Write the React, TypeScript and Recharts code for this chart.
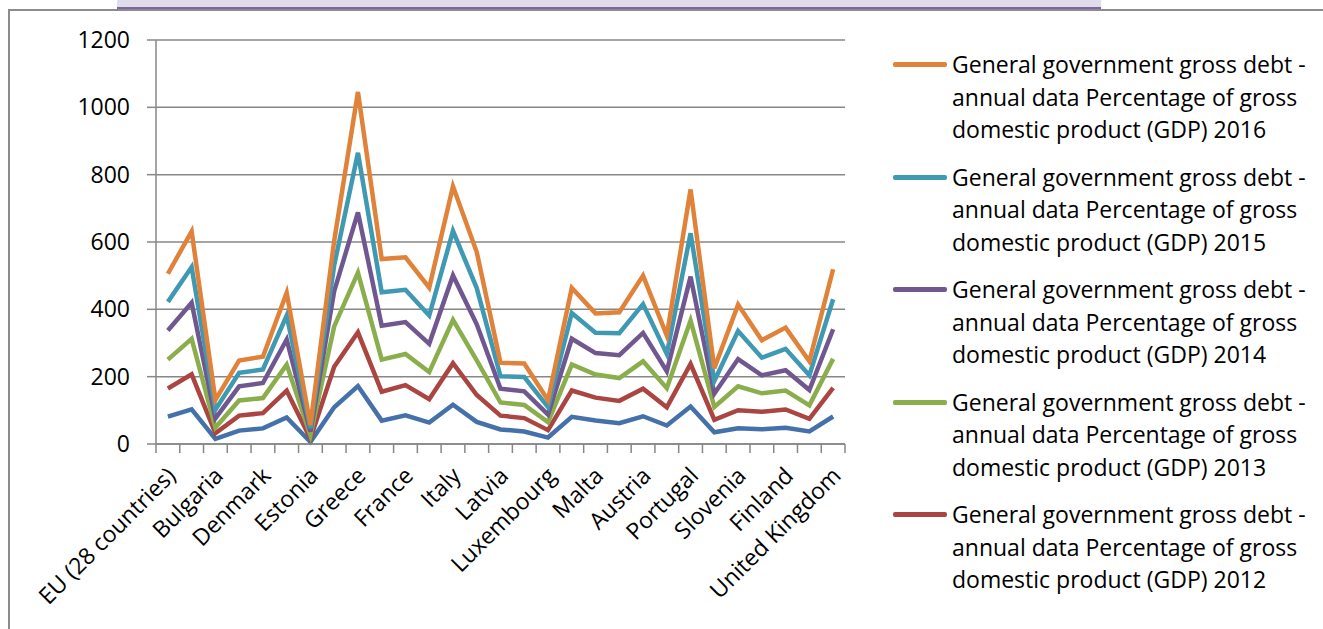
import React from "react";
import { ComposedChart, Area, XAxis, YAxis, CartesianGrid, Legend } from "recharts";

const countries = [
  "EU (28 countries)", "Belgium", "Bulgaria", "Czech Republic", "Denmark", "Germany",
  "Estonia", "Ireland", "Greece", "Spain", "France", "Croatia", "Italy", "Cyprus",
  "Latvia", "Lithuania", "Luxembourg", "Hungary", "Malta", "Netherlands", "Austria",
  "Poland", "Portugal", "Romania", "Slovenia", "Slovakia", "Finland", "Sweden", "United Kingdom",
];

// General government gross debt, % of GDP, one array per year (stacked in the chart)
const debt2011 = [81.1, 102.6, 15.2, 39.8, 46.4, 78.6, 6.1, 109.3, 172.1, 69.5, 85.2, 63.7, 116.5, 65.8, 43.1, 37.2, 19.1, 80.5, 70.1, 61.7, 82.4, 54.8, 111.4, 34.7, 46.6, 43.7, 48.5, 37.2, 81.6];
const debt2012 = [83.8, 104.3, 16.7, 44.5, 45.2, 79.8, 9.7, 120.0, 159.6, 85.7, 89.6, 69.4, 123.4, 79.7, 41.2, 39.8, 22.0, 78.4, 67.7, 66.4, 81.9, 54.4, 126.2, 37.4, 53.9, 52.2, 53.9, 37.5, 85.1];
const debt2013 = [85.7, 105.5, 17.0, 44.9, 44.7, 77.5, 10.2, 120.0, 177.4, 95.5, 92.4, 80.5, 129.0, 102.6, 39.0, 38.8, 23.7, 77.1, 68.4, 67.7, 81.3, 56.5, 129.0, 38.0, 71.0, 54.7, 56.5, 40.2, 86.2];
const debt2014 = [86.7, 107.0, 27.0, 42.2, 44.8, 74.6, 10.7, 104.5, 179.0, 100.4, 95.0, 84.0, 131.8, 107.5, 40.9, 40.5, 22.7, 76.6, 63.8, 67.9, 84.4, 50.4, 130.6, 39.4, 80.9, 53.5, 60.2, 45.2, 88.1];
const debt2015 = [84.9, 106.1, 26.0, 40.0, 40.4, 70.9, 10.0, 76.9, 176.8, 99.4, 95.8, 83.7, 132.1, 107.5, 36.9, 42.6, 22.0, 76.7, 60.3, 65.2, 85.5, 51.3, 128.8, 37.9, 83.1, 52.3, 63.6, 43.9, 89.0];
const debt2016 = [83.5, 105.9, 29.0, 36.8, 37.9, 68.1, 9.4, 72.8, 180.8, 99.0, 96.5, 82.9, 132.6, 107.1, 40.1, 40.1, 20.8, 73.9, 57.6, 62.3, 84.6, 54.4, 130.1, 37.6, 78.5, 51.8, 63.1, 41.6, 89.0];

const yTicks = [0, 200, 400, 600, 800, 1000, 1200];

const seriesName = (year: string) =>
  "General government gross debt - annual data Percentage of gross domestic product (GDP) " + year;

const series = [
  { key: "y2011", year: "2011", color: "#4471AA", values: debt2011, inLegend: false },
  { key: "y2012", year: "2012", color: "#AA4542", values: debt2012, inLegend: true },
  { key: "y2013", year: "2013", color: "#8AAE4B", values: debt2013, inLegend: true },
  { key: "y2014", year: "2014", color: "#70578F", values: debt2014, inLegend: true },
  { key: "y2015", year: "2015", color: "#4099B2", values: debt2015, inLegend: true },
  { key: "y2016", year: "2016", color: "#E0823A", values: debt2016, inLegend: true },
];

const data = countries.map((name, i) => {
  const row: Record<string, any> = { name };
  series.forEach((s) => (row[s.key] = s.values[i]));
  return row;
});

const FONT = "'Open Sans', Lato, sans-serif";
const FONT_SIZE = 23;
const GRID = "#878787";

// plot area in page pixels
const PLOT_LEFT = 156;
const PLOT_RIGHT = 845;
const STEP = (PLOT_RIGHT - PLOT_LEFT) / countries.length;

const CategoryTick = ({ x, y, payload, index }: any) => {
  const left = x - STEP / 2;
  const last = index === countries.length - 1;
  return (
    <g>
      <line x1={left} y1={y} x2={left} y2={y + 9} stroke={GRID} strokeWidth={1.5} />
      {last && <line x1={x + STEP / 2} y1={y} x2={x + STEP / 2} y2={y + 9} stroke={GRID} strokeWidth={1.5} />}
      {index % 2 === 0 && (
        <text
          transform={`translate(${x - 3}, ${y + 21}) rotate(-45)`}
          textAnchor="end"
          dy="0.75em"
          fontSize={FONT_SIZE}
          fontFamily={FONT}
          fill="#000"
        >
          {payload.value}
        </text>
      )}
    </g>
  );
};

const LegendBox = () => (
  <div style={{ fontFamily: FONT, fontSize: FONT_SIZE, color: "#000" }}>
    {series
      .filter((s) => s.inLegend)
      .slice()
      .reverse()
      .map((s) => (
        <div key={s.key} style={{ position: "relative", paddingLeft: 59, marginBottom: 15, lineHeight: "32.5px", width: 372 }}>
          <span
            style={{
              position: "absolute",
              left: 0,
              top: 14,
              width: 54,
              height: 5,
              borderRadius: 2,
              background: s.color,
            }}
          />
          {seriesName(s.year)}
        </div>
      ))}
  </div>
);

export default function App() {
  return (
    <div style={{ position: "absolute", left: 0, top: 0, width: 1323, height: 629, overflow: "hidden", background: "#fff" }}>
      {/* clipped title box above the chart frame */}
      <div
        style={{
          position: "absolute",
          left: 117,
          top: 0,
          width: 984,
          height: 7,
          background: "#e0dcec",
          borderBottom: "2px solid #8064a2",
        }}
      />
      {/* chart frame */}
      <div
        style={{
          position: "absolute",
          left: 8,
          top: 9,
          width: 1400,
          height: 700,
          border: "2px solid #8c8c8c",
        }}
      />
      <div style={{ position: "absolute", left: 0, top: 0 }}>
        <ComposedChart
          width={1323}
          height={629}
          data={data}
          margin={{ top: 40, right: 1323 - PLOT_RIGHT, bottom: 35, left: 0 }}
        >
          <CartesianGrid horizontal vertical={false} stroke={GRID} strokeWidth={1.5} />
          <XAxis
            dataKey="name"
            interval={0}
            height={150}
            padding={{ left: STEP / 2, right: STEP / 2 }}
            tickSize={0}
            tickMargin={0}
            tickLine={false}
            axisLine={{ stroke: GRID, strokeWidth: 1.5 }}
            tick={<CategoryTick />}
          />
          <YAxis
            width={PLOT_LEFT}
            domain={[0, 1200]}
            ticks={yTicks}
            tickSize={9}
            tickMargin={17}
            axisLine={{ stroke: GRID, strokeWidth: 1.5 }}
            tickLine={{ stroke: GRID, strokeWidth: 1.5 }}
            tick={{ fontSize: FONT_SIZE, fontFamily: FONT, fill: "#000" }}
          />
          <Legend
            layout="vertical"
            align="center"
            verticalAlign="middle"
            wrapperStyle={{ left: 893, top: 48, width: 430 }}
            content={() => <LegendBox />}
          />
          {series.map((s) => (
            <Area
              key={s.key}
              type="linear"
              dataKey={s.key}
              name={seriesName(s.year)}
              stackId="debt"
              stroke={s.color}
              strokeWidth={4.5}
              fill="none"
              fillOpacity={0}
              dot={false}
              activeDot={false}
              isAnimationActive={false}
            />
          ))}
        </ComposedChart>
      </div>
    </div>
  );
}
